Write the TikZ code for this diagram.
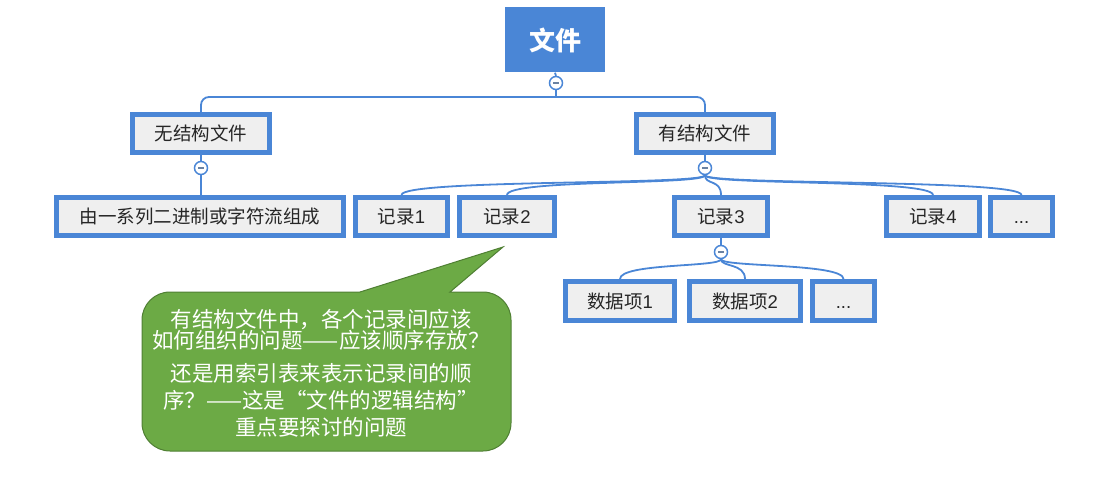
\documentclass[tikz,border=0pt]{standalone}
\usepackage{fontspec}
\setmainfont{Liberation Sans}
\newfontfamily\cjk{Noto Sans CJK SC}
\usetikzlibrary{calc}
\definecolor{mblue}{HTML}{4A86D6}
\definecolor{mgray}{HTML}{EFEFEF}
\definecolor{mgreen}{HTML}{6CAA45}
\definecolor{mgreenD}{HTML}{4F7F33}
\begin{document}
\begin{tikzpicture}[x=1pt,y=-1pt,
  box/.style={draw=mblue, line width=5pt, fill=mgray, minimum height=38pt, inner sep=0pt,
    text height=16pt, text depth=2pt,
    font=\fontsize{18.5}{21}\selectfont, text=black!85},
  toggle/.style={circle, draw=mblue, line width=1.5pt, fill=white, minimum size=13pt, inner sep=0pt,
    path picture={\draw[line width=1.6pt, draw=gray!60!mblue]
      ([xshift=-3pt]path picture bounding box.center) -- ([xshift=3pt]path picture bounding box.center);}},
  conn/.style={draw=mblue, line width=1.8pt},
  curve/.style={draw=mblue, line width=1.8pt}]
\useasboundingbox (0,0) rectangle (1106,487);

% root
\node[fill=mblue, minimum width=100pt, minimum height=65pt, inner sep=0pt, text=white,
  font=\cjk\bfseries\fontsize{26}{28}\selectfont] (root) at (555,40) {文件};
\node[toggle] (c0) at (556,83) {};
\coordinate (j0) at (556,97);

% level 1
\node[box, minimum width=137pt] (n1) at (201,133.5) {\cjk 无结构文件};
\node[box, minimum width=137pt] (n2) at (705,133.5) {\cjk 有结构文件};
\node[toggle] (c1) at (201,168) {};
\node[toggle] (c2) at (705,168) {};

% level 2
\node[box, minimum width=287pt] (a1) at (200,216.5) {\cjk 由一系列二进制或字符流组成};
\node[box, minimum width=92pt] (r1) at (401.5,216.5) {{\cjk 记录}1};
\node[box, minimum width=95pt] (r2) at (507,216.5) {{\cjk 记录}2};
\node[box, minimum width=93pt] (r3) at (721,216.5) {{\cjk 记录}3};
\node[box, minimum width=93pt] (r4) at (933,216.5) {{\cjk 记录}4};
\node[box, minimum width=62pt] (r5) at (1021.5,216.5) {...};
\node[toggle] (c3) at (721,252) {};

% level 3
\node[box, minimum width=109pt, minimum height=39pt] (d1) at (620,301) {{\cjk 数据项}1};
\node[box, minimum width=111pt, minimum height=39pt] (d2) at (745,301) {{\cjk 数据项}2};
\node[box, minimum width=62pt, minimum height=39pt] (d3) at (843.5,301) {...};

% connectors
\draw[conn] (root.south) -- (c0.north);
\draw[conn] (c0.south) -- (j0);
\draw[conn, rounded corners=8pt] (n1.north) |- (j0) -| (n2.north);
\draw[conn] (n1.south) -- (c1.north);
\draw[conn] (c1.south) -- (c1.south |- a1.north);
\draw[conn] (n2.south) -- (c2.north);
\foreach \t in {r1,r2,r3,r4,r5}
  \draw[curve] (c2.south) .. controls +(0,10) and +(0,-16) .. (\t.north);
\draw[conn] (r3.south) -- (c3.north);
\foreach \t in {d1,d2,d3}
  \draw[curve] (c3.south) .. controls +(0,8) and +(0,-16) .. (\t.north);

% callout
\draw[fill=mgreen, draw=mgreenD, line width=1pt]
  (142,370) [rounded corners=28pt] -- (142,292) -- (300,292) [sharp corners] -- (360,292)
  -- (503,247) -- (450,292) -- (470,292) [rounded corners=28pt] -- (511,292)
  -- (511,451) -- (142,451) -- cycle;
\node[text=white, align=center, inner sep=0pt, font=\cjk\fontsize{21.5}{27}\selectfont] (note) at (321,373.5)
  {有结构文件中，各个记录间应该\\[-6pt]
   如何组织的问题——应该顺序存放？\\[6pt]
   还是用索引表来表示记录间的顺\\
   序？——这是“文件的逻辑结构”\\
   重点要探讨的问题};
\end{tikzpicture}
\end{document}
